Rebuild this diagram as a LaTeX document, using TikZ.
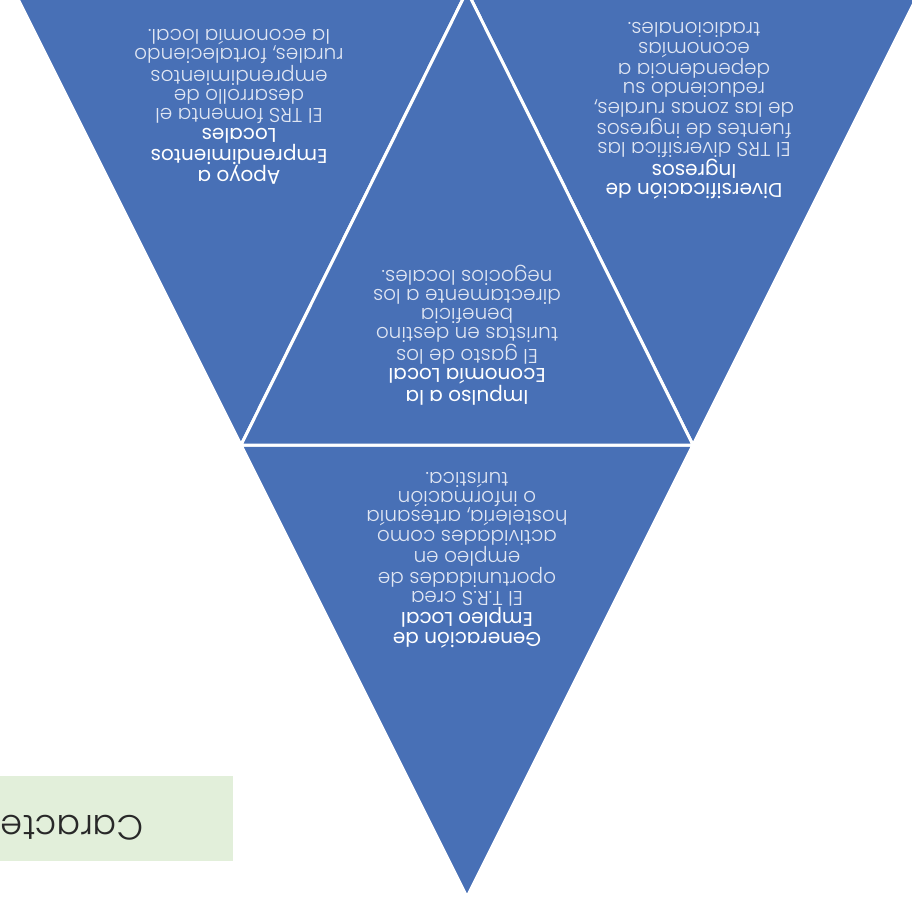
\documentclass[tikz,border=0pt]{standalone}
\usepackage{fontspec}
\setmainfont{Poppins}
\newfontfamily\lightfont{Poppins}[UprightFont={* Light}]
\definecolor{triblue}{RGB}{72,112,182}
\definecolor{boxgreen}{RGB}{226,239,218}
\definecolor{bodytxt}{RGB}{224,230,243}
\definecolor{boxtxt}{RGB}{40,40,40}
\newcommand\bl[1]{{\lightfont\color{bodytxt}#1}}
\begin{document}
\begin{tikzpicture}[x=1pt,y=-1pt,
  tri/.style={fill=triblue,draw=white,line width=3pt,line join=miter},
  block/.style={rotate=180,align=center,inner sep=0pt,text=white,
    font=\fontsize{20}{19.3}\selectfont}]
\useasboundingbox (0,0) rectangle (912,907);
\clip (0,0) rectangle (912,907);
% corners
\coordinate (apex) at (467,897);
\coordinate (tl) at (14,-9);
\coordinate (tr) at (920,-9);
\coordinate (ml) at (241,445);
\coordinate (mr) at (693,445);
\coordinate (tm) at (467,-9);
% triangles
\path[tri] (ml) -- (mr) -- (apex) -- cycle;
\path[tri] (tl) -- (tm) -- (ml) -- cycle;
\path[tri] (tm) -- (tr) -- (mr) -- cycle;
\path[tri] (ml) -- (tm) -- (mr) -- cycle;
% texts
\node[block] (apoyo) at (239,107) {Apoyo a\\Emprendimientos\\Locales\\
  \bl{El TRS fomenta el}\\\bl{desarrollo de}\\\bl{emprendimientos}\\\bl{rurales, fortaleciendo}\\\bl{la economía local.}};
\node[block] (divers) at (694,111) {Diversificación de\\Ingresos\\
  \bl{El TRS diversifica las}\\\bl{fuentes de ingresos}\\\bl{de las zonas rurales,}\\\bl{reduciendo su}\\\bl{dependencia a}\\\bl{economías}\\\bl{tradicionales.}};
\node[block] (impulso) at (467,335) {Impulso a la\\Economía Local\\
  \bl{El gasto de los}\\\bl{turistas en destino}\\\bl{beneficia}\\\bl{directamente a los}\\\bl{negocios locales.}};
\node[block] (empleo) at (467,560) {Generación de\\Empleo Local\\
  \bl{El T.R.S crea}\\\bl{oportunidades de}\\\bl{empleo en}\\\bl{actividades como}\\\bl{hostelería, artesanía}\\\bl{o información}\\\bl{turística.}};
% green box
\fill[boxgreen] (0,776) rectangle (233,861);
\begin{scope}
\clip (0,776) rectangle (233,861);
\node[rotate=180,anchor=west,inner sep=0pt,text=boxtxt,
  font=\lightfont\fontsize{35}{40}\selectfont] (carac) at (144,828) {Caracte};
\end{scope}
\end{tikzpicture}
\end{document}
